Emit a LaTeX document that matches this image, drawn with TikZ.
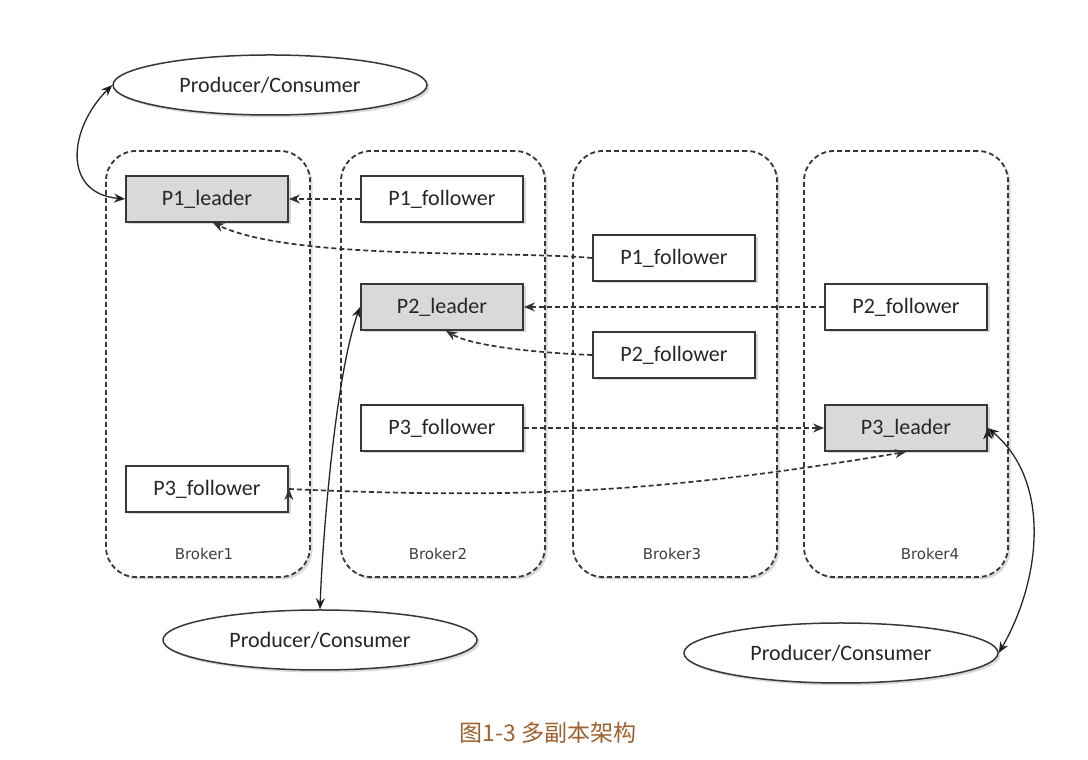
\documentclass[tikz,border=0pt]{standalone}
\usepackage{fontspec}
\setmainfont{Carlito}
\newfontfamily\brokerfont{DejaVu Sans}
\newfontfamily\cjk{Noto Sans CJK SC}
\usetikzlibrary{arrows.meta,positioning,shapes.geometric,shadows}
\definecolor{leadergray}{RGB}{217,217,217}
\definecolor{linegray}{RGB}{55,55,55}
\definecolor{captionbrown}{RGB}{158,96,44}

\begin{document}
\begin{tikzpicture}[
                    x=1pt, y=1pt,
                    >={Stealth[length=11pt, width=9pt]},
                    semithick,
                    font=\fontsize{22}{26}\selectfont,
                    softshadow/.style={drop shadow={opacity=0.3, shadow xshift=2.5pt, shadow yshift=-2.5pt}},
                    broker/.style={draw=linegray, line width=1.8pt, dash pattern=on 5pt off 3pt,
                        rounded corners=30pt, fill=white, minimum width=204pt, minimum height=426pt, softshadow},
                    brokername/.style={font=\brokerfont\fontsize{15}{17}\selectfont, text=black!75},
                    part/.style={draw=linegray, line width=1.8pt, fill=white, text=black!85,
                        minimum width=162pt, minimum height=46pt, softshadow},
                    leader/.style={part, fill=leadergray},
                    client/.style={ellipse, draw=linegray, line width=1.5pt, fill=white, text=black!85,
                        minimum width=314pt, minimum height=60pt, softshadow},
                    replica/.style={->, draw=black!80, line width=1.7pt, dash pattern=on 5pt off 3pt},
                    access/.style={<->, draw=black!85, line width=1.3pt}
                ]
                \useasboundingbox (0,0) rectangle (1088,760);

                % brokers
                \node[broker] (broker1) at (208,396) {};
                \node[broker] (broker2) at (443,396) {};
                \node[broker] (broker3) at (675,396) {};
                \node[broker] (broker4) at (906,396) {};

                \node[brokername, above=15pt of broker1.south, xshift=-4pt] (name1) {Broker1};
                \node[brokername, above=15pt of broker2.south, xshift=-5pt] (name2) {Broker2};
                \node[brokername, above=15pt of broker3.south, xshift=-3pt] (name3) {Broker3};
                \node[brokername, above=15pt of broker4.south, xshift=24pt] (name4) {Broker4};

                % partitions
                \node[leader] (b1p1) at (207,561) {P1\_leader};
                \node[part] (b1p3) at (207,271) {P3\_follower};
                \node[part] (b2p1) at (442,561) {P1\_follower};
                \node[leader] (b2p2) at (442,453) {P2\_leader};
                \node[part] (b2p3) at (442,332) {P3\_follower};
                \node[part] (b3p1) at (674,502) {P1\_follower};
                \node[part] (b3p2) at (674,405) {P2\_follower};
                \node[part] (b4p2) at (906,453) {P2\_follower};
                \node[leader] (b4p3) at (906,332) {P3\_leader};

                % producers / consumers
                \node[client] (pc1) at (270,675) {Producer/Consumer};
                \node[client] (pc2) at (320,120) {Producer/Consumer};
                \node[client] (pc3) at (841,107) {Producer/Consumer};

                \node[font=\cjk\fontsize{23}{26}\selectfont, text=captionbrown] (caption) at (548,27) {图1-3 多副本架构};

                \path[replica]
                (b2p1) edge (b1p1)
                (b3p1.west) edge[out=175, in=-25, looseness=0.6] ([xshift=6pt]b1p1.south)
                (b4p2) edge (b2p2)
                (b3p2.west) edge[out=178, in=-30, looseness=0.6] ([xshift=4pt]b2p2.south)
                (b2p3) edge (b4p3)
                (b1p3.east) edge[bend right=6] (b4p3.south)
                ;

                \path[access]
                (pc1.west) edge[out=225, in=175, looseness=1.4] (b1p1.west)
                (pc2.north) edge[out=88, in=250, looseness=0.6] (b2p2.west)
                (b4p3.east) edge[out=-40, in=60, looseness=0.95] (pc3.east)
                ;
            \end{tikzpicture}
\end{document}
